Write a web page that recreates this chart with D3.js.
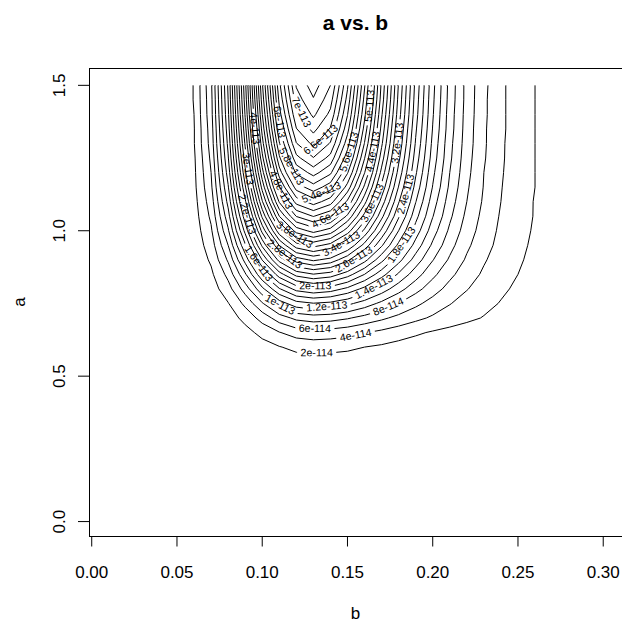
<!DOCTYPE html>
<html><head><meta charset="utf-8">
<script src="https://cdn.jsdelivr.net/npm/d3@7"></script>
<style>html,body{margin:0;padding:0;background:#fff;} svg{display:block;}</style>
</head><body>
<svg id="chart" width="622" height="622"></svg>
<script>
// Grid extent of the original evaluation (sets the axis ranges)
const bRange = [0.01, 0.30];
const aRange = [0.01, 1.5];
// Grid nodes where the surface is non-negligible
const bGrid = [0.04,0.05,0.06,0.07,0.08,0.09,0.10,0.11,0.12,0.13,0.14,0.15,0.16,0.17,0.18,0.19,0.20,0.21,0.22,0.23,0.24,0.25,0.26,0.27,0.28,0.29];
const aGrid = [0.50,0.55,0.60,0.65,0.70,0.75,0.80,0.85,0.90,0.95,1.00,1.05,1.10,1.15,1.20,1.25,1.30,1.35,1.40,1.45,1.50];
// Surface values (units of 1e-115), one row per a value, one column per b value
const zRows = [
  [0,0,0,0,0,0,1,3,4,4,4,3,3,2,2,1,1,1,0,0,0,0,0,0,0,0],
  [0,0,0,0,0,2,4,8,11,12,11,10,8,7,5,4,3,2,1,1,1,0,0,0,0,0],
  [0,0,0,0,2,5,12,19,25,27,26,24,20,17,13,10,8,6,4,3,2,1,1,1,0,0],
  [0,0,0,1,5,13,26,39,49,53,51,47,41,35,29,23,18,14,11,8,6,4,3,2,2,1],
  [0,0,0,3,10,26,48,70,85,90,88,82,73,64,54,45,37,30,24,19,15,12,9,7,5,4],
  [0,0,1,6,19,45,78,110,132,139,135,125,111,95,80,65,52,41,32,25,19,15,11,8,6,5],
  [0,0,2,10,32,69,115,158,187,196,190,175,154,131,108,87,69,53,41,31,23,17,13,10,7,5],
  [0,0,3,16,46,97,157,211,247,259,251,229,200,168,137,109,85,65,49,37,27,20,15,11,8,5],
  [0,1,5,23,63,127,201,267,310,324,313,285,247,206,167,131,101,77,57,42,31,22,16,11,8,6],
  [0,1,7,30,80,157,244,321,371,387,373,339,293,243,195,152,116,87,64,47,34,24,17,12,8,6],
  [0,1,9,37,97,186,286,373,428,447,431,390,335,276,220,171,129,96,70,51,36,26,18,13,9,6],
  [0,2,11,44,112,212,324,420,481,501,483,436,373,306,243,187,141,104,75,54,38,27,19,13,9,6],
  [0,2,13,50,126,236,358,462,528,550,529,476,407,332,262,201,150,110,80,57,40,28,19,13,9,6],
  [0,2,15,56,138,257,387,498,569,592,569,512,436,355,279,213,159,116,83,59,41,28,20,13,9,6],
  [0,2,16,60,149,275,412,530,604,628,604,542,461,374,293,223,165,120,86,60,42,29,20,13,9,6],
  [0,3,17,64,158,290,434,556,634,659,633,568,481,390,305,231,171,124,88,62,43,29,20,14,9,6],
  [0,3,19,68,165,303,452,578,659,685,658,589,499,404,315,238,175,126,90,63,43,30,20,14,9,6],
  [0,3,19,70,171,313,467,597,679,706,678,607,513,414,322,243,179,129,91,63,44,30,20,14,9,6],
  [0,3,20,73,176,322,479,612,696,724,695,621,525,423,329,248,182,130,92,64,44,30,20,14,9,6],
  [0,3,21,74,180,329,489,625,710,738,708,633,534,431,334,251,184,132,93,64,44,30,20,14,9,6],
  [0,3,21,76,183,334,497,635,722,750,720,643,542,436,338,254,186,133,93,65,44,30,20,13,9,6]
];
const zUnit = 1e-115;
const levelLabels = ["2e-114","4e-114","6e-114","8e-114","1e-113","1.2e-113","1.4e-113","1.6e-113","1.8e-113","2e-113","2.2e-113","2.4e-113","2.6e-113","2.8e-113","3e-113","3.2e-113","3.4e-113","3.6e-113","3.8e-113","4e-113","4.2e-113","4.4e-113","4.6e-113","4.8e-113","5e-113","5.2e-113","5.4e-113","5.6e-113","5.8e-113","6e-113","6.2e-113","6.4e-113","6.6e-113","6.8e-113","7e-113","7.2e-113","7.4e-113"];
const xTicks = [0,0.05,0.10,0.15,0.20,0.25,0.30];
const yTicks = [0,0.5,1.0,1.5];

const svg = d3.select("#chart");
const plot = {left:89, right:623, top:68, bottom:536};
const bPad = 0.04*(bRange[1]-bRange[0]);
const aPad = 0.04*(aRange[1]-aRange[0]);
const x = d3.scaleLinear().domain([bRange[0]-bPad, bRange[1]+bPad]).range([plot.left, plot.right]);
const y = d3.scaleLinear().domain([aRange[0]-aPad, aRange[1]+aPad]).range([plot.bottom, plot.top]);
const font = "'Liberation Sans', Arial, Helvetica, sans-serif";

const nx = bGrid.length, ny = aGrid.length;
const flat = [];
zRows.forEach(r => r.forEach(v => flat.push(v*zUnit)));
const bAt = d3.scaleLinear().domain(bGrid.map((_, i) => i+0.5)).range(bGrid);
const aAt = d3.scaleLinear().domain(aGrid.map((_, i) => i+0.5)).range(aGrid);
const yTop = y(d3.max(aGrid));

const defs = svg.append("defs");
defs.append("clipPath").attr("id","clipGrid")
  .append("rect").attr("x", plot.left).attr("y", yTop)
  .attr("width", 622-plot.left).attr("height", plot.bottom-yTop);

const gen = d3.contours().size([nx, ny]);
const ctx = document.createElement("canvas").getContext("2d");
const labelSize = 10.6;
ctx.font = labelSize + "px " + font;

function rectCorners(c, ang, w, h) {
  const ca = Math.cos(ang), sa = Math.sin(ang);
  return [[-w/2,-h/2],[w/2,-h/2],[w/2,h/2],[-w/2,h/2]].map(([u,v]) => [c[0]+u*ca - v*sa, c[1]+u*sa + v*ca]);
}
function overlap(A, B) {
  for (const P of [A, B]) {
    for (let i = 0; i < 4; i++) {
      const p = P[i], q = P[(i+1)%4];
      const nxv = q[1]-p[1], nyv = p[0]-q[0];
      let aMin=Infinity,aMax=-Infinity,bMin=Infinity,bMax=-Infinity;
      for (const r of A) { const d = r[0]*nxv + r[1]*nyv; aMin=Math.min(aMin,d); aMax=Math.max(aMax,d); }
      for (const r of B) { const d = r[0]*nxv + r[1]*nyv; bMin=Math.min(bMin,d); bMax=Math.max(bMax,d); }
      if (aMax < bMin || bMax < aMin) return false;
    }
  }
  return true;
}
const placed = [];
const gLines = svg.append("g").attr("clip-path","url(#clipGrid)");
const gLabels = svg.append("g");

levelLabels.forEach((lab, li) => {
  const level = +lab;
  const mp = gen.thresholds([level*0.999999])(flat)[0];
  const rings = [];
  mp.coordinates.forEach(poly => poly.forEach(ring => {
    rings.push(ring.map(([cx, cy]) => [x(bAt(cx)), y(aAt(cy))]));
  }));
  if (!rings.length) return;
  const d = rings.map(r => "M" + r.map(p => p[0].toFixed(2)+","+p[1].toFixed(2)).join("L") + "Z").join("");
  const runs = [];
  rings.forEach(r => {
    let cur = [];
    const n = r.length;
    let start = r.findIndex(p => p[1] < yTop - 0.01);
    if (start < 0) start = 0;
    for (let k = 0; k <= n; k++) {
      const p = r[(start + k) % n];
      if (p[1] >= yTop - 0.01) cur.push(p);
      else { if (cur.length > 1) runs.push(cur); cur = []; }
    }
    if (cur.length > 1) runs.push(cur);
  });
  const tw = ctx.measureText(lab).width;
  const w = tw + 7, hBox = 19, hGap = 11;
  let best = null;
  runs.forEach(pts => {
    const cum = [0];
    for (let i = 1; i < pts.length; i++) cum.push(cum[i-1] + Math.hypot(pts[i][0]-pts[i-1][0], pts[i][1]-pts[i-1][1]));
    const total = cum[cum.length-1];
    const at = s => {
      let i = d3.bisectRight(cum, s) - 1; i = Math.max(0, Math.min(pts.length-2, i));
      const seg = cum[i+1]-cum[i] || 1, t = (s-cum[i])/seg;
      return [pts[i][0] + t*(pts[i+1][0]-pts[i][0]), pts[i][1] + t*(pts[i+1][1]-pts[i][1])];
    };
    for (let s = 0; s + w <= total; s += 1) {
      const p0 = at(s), p1 = at(s+w);
      let yMin = Math.min(p0[1], p1[1]), yMax = Math.max(p0[1], p1[1]);
      for (let k = 0; k < pts.length; k++) {
        if (cum[k] > s && cum[k] < s+w) { yMin = Math.min(yMin, pts[k][1]); yMax = Math.max(yMax, pts[k][1]); }
      }
      const score = yMax - yMin;
      if (best && score >= best.score) continue;
      const dx = p1[0]-p0[0], dy = p1[1]-p0[1];
      let ang = Math.atan2(dy, dx);
      if (ang > Math.PI/2) ang -= Math.PI;
      if (ang <= -Math.PI/2) ang += Math.PI;
      const c = [(p0[0]+p1[0])/2, (p0[1]+p1[1])/2];
      const corners = rectCorners(c, ang, w, hBox);
      if (rectCorners(c, ang, w, labelSize).some(q => q[0] < plot.left+1 || q[0] > 621 || q[1] < plot.top+1 || q[1] > plot.bottom-1)) continue;
      if (placed.some(P => overlap(P, corners))) continue;
      best = {score, c, ang, corners};
    }
  });
  const mid = "m" + li;
  const m = defs.append("mask").attr("id", mid).attr("maskUnits","userSpaceOnUse")
    .attr("x",0).attr("y",0).attr("width",622).attr("height",622);
  m.append("rect").attr("width",622).attr("height",622).attr("fill","#fff");
  if (best) {
    placed.push(best.corners);
    const tf = `translate(${best.c[0].toFixed(2)},${best.c[1].toFixed(2)}) rotate(${(best.ang*180/Math.PI).toFixed(2)})`;
    m.append("rect").attr("x",-w/2).attr("y",-hGap/2).attr("width",w).attr("height",hGap).attr("fill","#000").attr("transform",tf);
    gLabels.append("text").attr("transform",tf)
      .attr("text-anchor","middle").attr("dy","0.36em").attr("font-family",font).attr("font-size",labelSize)
      .attr("fill","#000").text(lab);
  }
  gLines.append("path").attr("d", d).attr("mask",`url(#${mid})`)
    .attr("fill","none").attr("stroke","#000").attr("stroke-width",1);
});

const bx = svg.append("g").attr("fill","none").attr("stroke","#000").attr("stroke-width",1);
bx.append("rect").attr("x",plot.left+0.5).attr("y",plot.top+0.5).attr("width",plot.right-plot.left).attr("height",plot.bottom-plot.top);
const ax = svg.append("g");
xTicks.forEach(t => {
  ax.append("line").attr("x1",x(t)).attr("x2",x(t)).attr("y1",plot.bottom).attr("y2",plot.bottom+10.5).attr("stroke","#000");
  ax.append("text").attr("x",x(t)).attr("y",578).attr("text-anchor","middle").attr("font-family",font).attr("font-size",17).text(d3.format(".2f")(t));
});
yTicks.forEach(t => {
  ax.append("line").attr("x1",plot.left).attr("x2",plot.left-11).attr("y1",y(t)).attr("y2",y(t)).attr("stroke","#000");
  ax.append("text").attr("transform",`translate(64.5,${y(t)}) rotate(-90)`).attr("text-anchor","middle").attr("font-family",font).attr("font-size",17).text(d3.format(".1f")(t));
});
svg.append("text").attr("x",355.5).attr("y",30).attr("text-anchor","middle").attr("font-family",font).attr("font-size",21).attr("font-weight","bold").text("a vs. b");
svg.append("text").attr("x",355.5).attr("y",619).attr("text-anchor","middle").attr("font-family",font).attr("font-size",17).text("b");
svg.append("text").attr("transform",`translate(25,302) rotate(-90)`).attr("text-anchor","middle").attr("font-family",font).attr("font-size",17).text("a");
</script>
</body></html>
